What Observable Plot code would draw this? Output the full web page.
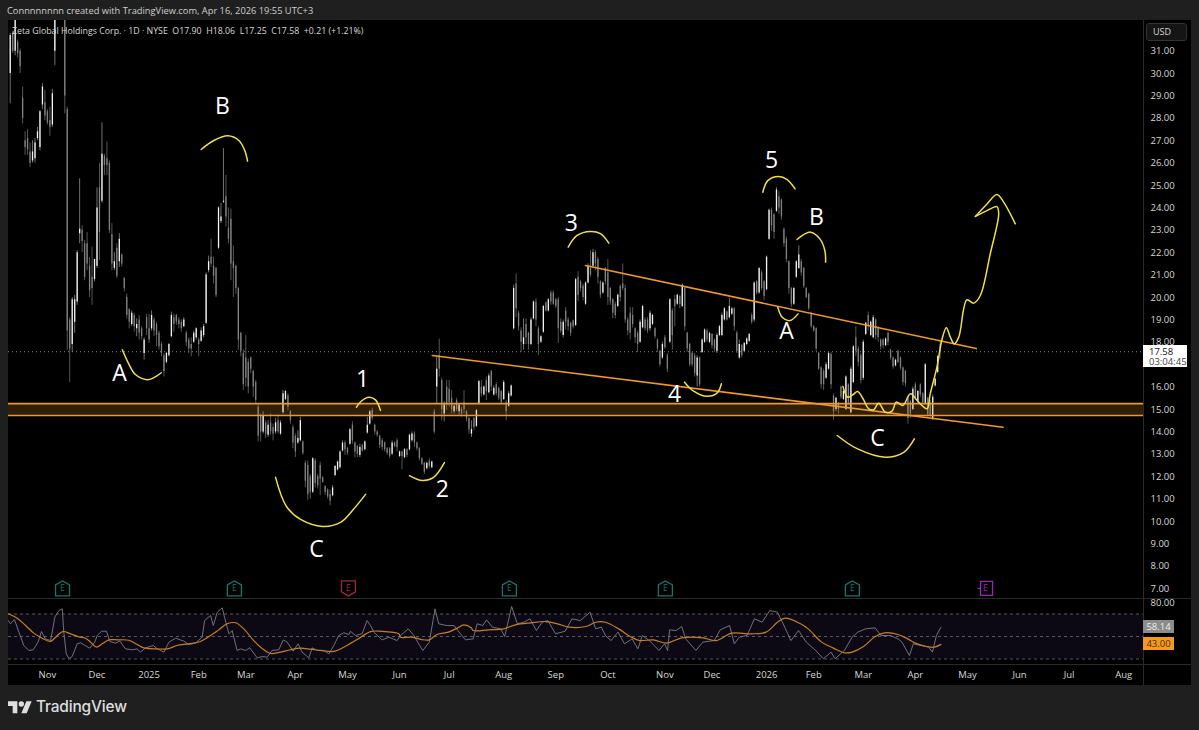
<!DOCTYPE html>
<html><head><meta charset="utf-8">
<script src="https://cdn.jsdelivr.net/npm/d3@7"></script>
<script src="https://cdn.jsdelivr.net/npm/@observablehq/plot@0.6"></script>
<style>
html,body{margin:0;padding:0;background:#1f1f1f;}
#wrap{position:relative;width:1199px;height:730px;overflow:hidden;font-family:"Open Sans",sans-serif;background:#1f1f1f;}
.abs{position:absolute;white-space:pre;}
svg{overflow:visible;}
</style></head><body>
<div id="wrap">
<div class="abs" style="left:8px;top:20px;width:1183px;height:665px;background:#000;box-sizing:border-box;"></div>
<div class="abs" id="cap" style="left:7px;top:4px;font-size:9.3px;line-height:14px;color:#cfcfcf;">Connnnnnnn created with TradingView.com, Apr 16, 2026 19:55 UTC+3</div>
<div class="abs" id="main" style="left:0;top:20px;"></div>
<div class="abs" id="rsi" style="left:0;top:598px;"></div>
<div class="abs" style="left:8px;top:598px;width:1183px;height:1px;background:#2b2b2b;"></div>
<div class="abs" style="left:8px;top:664px;width:1183px;height:1px;background:#2b2b2b;"></div>
<div class="abs" style="left:1143px;top:20px;width:1px;height:665px;background:#2b2b2b;"></div>
<div class="abs" id="legend" style="left:12px;top:24px;font-size:8.8px;line-height:14px;color:#d8d8d8;">Zeta Global Holdings Corp. · 1D · NYSE  O17.90  H18.06  L17.25  C17.58  +0.21 (+1.21%)</div>
<div class="abs" style="left:1146px;top:23px;width:41px;height:18px;box-sizing:border-box;border:1px solid #333;border-radius:3px;background:#151515;color:#d8d8d8;font-size:9px;line-height:16px;padding-left:6px;">USD</div>
<div class="abs" style="left:1143px;top:345px;width:44px;height:22px;background:#fff;color:#111;font-size:9.5px;line-height:10px;padding:1.5px 0 0 6px;box-sizing:border-box;">17.58<br><span style="color:#444">03:04:45</span></div>
<div class="abs" style="left:1143px;top:620px;width:31px;height:13px;background:#8c8c8c;color:#eee;font-size:9.5px;line-height:13px;text-align:center;">58.14</div>
<div class="abs" style="left:1143px;top:637px;width:31px;height:13px;background:#f7991c;color:#4a2a00;font-size:9.5px;line-height:13px;text-align:center;">43.00</div>
<svg class="abs" style="left:8px;top:700px" width="24" height="14" viewBox="0 2 36 21"><path fill="#dedede" d="M14 22H7V11H0V4h14v18zM28 22h-8l7.5-18h8L28 22z"/><circle fill="#dedede" cx="20" cy="8" r="4"/></svg>
<div class="abs" style="left:36px;top:696px;font-family:Inter,sans-serif;font-size:15.5px;font-weight:500;line-height:22px;color:#dedede;letter-spacing:-.2px;">TradingView</div>
</div>
<script>
// ---- candles, one entry per trading day (left to right) ----
const highs = [
31.8,31.9,33,31.5,31.1,29.4,27.4,27.5,26.9,27,
27.1,27.6,28.35,29.55,29.25,28.4,28.5,29.3,34,35.5,
35.5,35,33,28.5,19.1,20,20.1,22.1,25.3,23.2,
22.55,22.9,21.8,22.25,21.7,24.9,26,27.8,26.4,26.95,
26.1,23.3,22,22.4,22.85,21.95,20.9,20.15,19.5,19.4,
19.3,19.05,19.2,18.7,18.2,19.25,19.25,19.4,19.1,18.9,
18.5,18,17.5,17.55,17.95,19.35,19.25,19.25,19.1,19,
19.1,18.5,18.2,18.2,18.5,18.65,18.2,18.65,18.8,21.1,
21.85,22.6,21.8,21.35,24.05,24.2,26.65,25.45,24,23.95,
22.3,21.45,20.45,18.45,17.65,18.3,17.25,17.35,16.75,16.3,
15.2,14.8,14.9,14.5,14.5,14.8,14.35,14.6,14.75,14.5,
15.85,15.85,15.7,14.95,14.3,13.9,14.05,14.65,13.6,12.7,
12.7,12.1,12.85,12.8,12.1,12.65,12,11.6,11.45,11.4,
11.6,12.5,12.7,13.15,13.6,13.6,13.3,14.15,14.45,13.55,
13.4,13.45,13.45,13.6,14.65,14.95,15.05,14.35,14.05,13.85,
13.7,13.55,13.3,13.3,13.6,13.55,13.7,13.15,13.15,13.25,
13.25,13.9,14,14,13.55,13.3,12.85,12.65,12.65,12.8,
12.7,15,17.4,18.15,16.4,15.35,16.3,16.3,15.85,15.2,
15.5,15.25,15.1,15.85,14.95,14.65,14.5,14.65,15,16.3,
16.3,16.05,16.45,16.6,16.75,16.05,16.2,16,15.85,16.3,
15.4,15.8,16.1,20.55,21.05,19.4,18.65,19.05,19.05,18.45,
19.1,19.85,19.95,18.7,18.3,19.65,19.8,19.95,20.3,20.3,
19.95,20,19.05,19,19.55,19.1,18.9,19,20.85,21.15,
20.75,20.6,20.7,21.5,22.1,22.15,22.1,21.8,20.75,20.7,
21.35,21.7,20.45,19.95,19.8,20.15,20.55,21.5,20.55,19.1,
19.55,19.55,18.65,18.5,19,19.65,19.1,19.1,19.4,19.25,
18.65,18.15,17.65,18,18.3,17.5,19.95,19.5,20.1,20.15,
20.1,20.6,20.45,18.45,17.95,17.55,17.5,17.4,17.35,18.15,
18.6,18.6,18.45,18.4,18.15,18.4,18.75,19.3,19.55,19.4,
19.95,19.55,19.55,18.5,18.1,17.9,18,18.2,18.4,19.3,
20.7,20.75,21.35,21.2,20.75,21.85,23.95,24,23.75,24.9,
24.75,24.4,23.1,22.7,21.65,20.45,20.45,21.65,22.3,21.7,
21.35,20.45,20.2,19.35,18.75,18.65,17.55,16.9,16.8,17.1,
17.55,17.55,15.7,15.55,15.3,16.05,15.85,16.5,16.15,16.9,
17.85,18.7,17.8,17.5,18.1,18.9,19.35,18.95,19.2,19.05,
18.7,18.15,18.15,18.2,18.45,17.7,17.35,17.25,17.65,17.35,
16.9,16.75,15.55,15.4,16,16.2,15.85,16.15,15.75,17.05,
15.55,15.4,15.65,16.4,17.4,18.06];
const lows = [
28.65,30.9,30.8,30.7,30,27.75,26.35,26.35,25.8,26,
26,27,26.55,28.4,27.9,27.7,27.2,27.6,30.35,33,
33,33,28.2,17.65,16.2,17.55,18.4,19.65,22.4,22,
20.75,21.2,20,19.65,20.7,21.3,21.65,24.2,25.45,25.45,
22.85,21.2,21.2,20.85,21.35,21.35,20.25,19.05,18.6,18.7,
18.45,18.25,18.1,18.1,17.2,18.3,17.95,18.5,18.25,17.8,
17.65,17.35,16.45,17.05,17.35,18.2,18.45,18.75,18.6,18.45,
18.65,17.8,17.5,17.35,17.95,18.1,17.35,18,18.2,18.8,
21.1,21.35,20.6,20,22.15,23.3,24.2,23.15,22.4,20.75,
20,20.15,17.65,17.35,15.85,16,15.7,16.6,15.55,15.25,
13.55,13.55,13.9,13.7,13.75,13.85,13.6,13.9,13.9,13.85,
14.8,15.4,14.95,14.35,13.25,12.85,13.45,13.55,12.95,11.5,
10.95,11,11.25,11.5,11.45,11.15,11.7,11.15,11,10.7,
11.1,12,12.25,12.35,13.1,12.95,12.95,13.4,13.45,12.85,
12.85,12.85,13.1,13.15,13.9,14.3,14.5,13.85,13.75,13.25,
13.15,13.1,12.95,12.8,12.95,13.3,13.1,12.85,12.3,12.8,
12.85,13.15,13.55,13.3,13.15,12.7,12.5,12.1,12.3,12.35,
12.35,13.9,15.25,16.45,14.5,14.45,14.95,15.1,14.8,14.8,
14.9,14.75,14.65,14.8,14.45,13.9,13.75,14.05,14.2,15.2,
15.55,15.6,15.4,15.7,15.8,15.6,15.6,15.4,15.25,15.4,
14.5,15.1,15.55,18.55,19.1,18.5,17.55,17.65,17.9,17.65,
17.85,19,18.7,17.4,17.95,18.4,19.35,19.35,19.65,19.65,
19.5,17.95,18.4,18.2,18.55,18.5,18.25,18.6,18.7,19.8,
20.25,19.85,19.65,20.6,20.9,21.3,21.2,20.6,19.95,20.15,
20.55,19.65,19.65,19.05,19.05,19.55,19.8,20.3,18.85,18.3,
18.1,18.65,17.95,17.55,17.95,18.6,18.5,18.4,18.5,18.75,
18.15,17.55,16.9,17.25,17.7,16.65,17.95,17.65,18.7,19.65,
19.5,19.55,18.5,17.55,16.9,16.9,16.45,16,16,17.5,
17.95,18,17.95,17.7,17.55,17.5,18.25,18.25,18.95,18.95,
19.05,19.2,18.5,17.5,17.25,17.3,17.55,17.85,18,18.8,
18.9,20.1,20.15,20.3,19.85,20.3,22.55,22.95,22.6,23.8,
23.7,23.45,22.25,21.55,20.15,19.55,19.65,20.85,21.25,20.95,
20.4,19.95,19.4,18.6,18.45,17.6,16.75,15.9,15.85,16.35,
16.75,15.9,14.5,14.9,14.8,15.45,15.4,14.95,15.2,14.8,
16.15,17.35,16.9,16.15,16.3,18.3,18.5,18.25,18.15,18.1,
18,17.65,17.7,17.8,17.85,17.2,16.8,16.9,17.05,16.75,
16.05,16,14.35,14.6,14.95,15.4,15.3,15.55,15.25,15.2,
14.65,14.6,14.5,16,16.6,17.25];
const opens = [
30,31.8,31,31.4,31,28.9,27,27.1,26.5,26.1,
26.2,27.1,26.7,28.6,28.7,28.3,27.9,27.7,31,34,
34.5,34,33,28.4,19,17.9,18.9,19.8,22.85,23,
22.4,22.4,21.4,20.9,20.8,21.4,24.9,24.3,26.3,26.2,
26,22.8,21.3,22.2,21.6,21.9,20.85,20,19.45,18.8,
19.2,18.6,19,18.6,17.5,19.1,18.6,18.6,19,18.8,
18.4,17.9,17.4,17.1,17.4,18.25,19.1,19.2,19,18.9,
18.7,18.4,18.1,17.9,18,18.2,18.1,18.05,18.3,18.85,
21.2,21.8,21.4,21.3,22.2,23.4,24.25,24.5,23.1,23.5,
21.6,21.4,20.4,18.4,17.5,17.3,17.1,17.3,16.7,16.2,
15.1,14.7,14,14.4,13.85,14.4,14.2,14,14.5,13.9,
14.85,15.45,15.6,14.9,14.2,13.8,13.5,13.6,13.55,12.6,
12.5,12,11.3,12.7,12,12.5,11.95,11.55,11.4,11.2,
11.15,12.05,12.3,12.4,13.15,13.5,13.25,13.45,14.3,13.5,
13.35,12.95,13.4,13.2,13.95,14.35,14.95,14.3,14,13.8,
13.6,13.5,13.25,13.25,13,13.5,13.6,12.9,13.1,12.85,
13.2,13.2,13.6,13.9,13.5,13.25,12.8,12.6,12.35,12.7,
12.4,14.9,16,17.4,16.3,14.8,16,15.9,15.5,14.9,
15.4,14.9,15,15.3,14.9,14.6,13.9,14.6,14.25,15.25,
16,15.65,16.3,15.75,16.7,15.65,16.1,15.95,15.8,15.45,
15.3,15.15,15.6,18.6,20.6,19.3,18.5,17.9,18.8,18.4,
17.9,19.05,19.8,18.6,18,18.45,19.75,19.4,20.2,20.2,
19.9,19.9,18.9,18.3,19.4,19,18.85,18.95,18.75,20.9,
20.7,20.5,19.7,20.65,21.3,21.4,22,21.7,20.7,20.2,
21.3,21.1,20.4,19.9,19.7,19.6,20.5,20.6,20.4,19,
19.3,19.2,18.6,18.4,18,18.65,19,19,18.6,18.8,
18.6,18.1,17.6,17.3,18.2,17.4,18,19.4,19.9,19.7,
20.05,19.6,20.4,18.4,17.9,17.5,17.4,16.5,17.3,17.55,
18,18.5,18,18.35,18.1,17.6,18.3,18.3,19,19.35,
19.1,19.25,19.5,18.4,17.3,17.85,17.6,17.9,18.05,19.2,
19,20.7,20.2,21.1,20.7,20.35,22.6,23.9,23.7,23.85,
24.5,24.35,23.05,22.6,21.6,20.4,19.7,20.9,21.3,21.6,
21.3,20.4,20.15,19.3,18.7,18.6,17.5,16.85,16.7,16.4,
16.8,17.45,15.6,15,15.25,16,15.45,15,16.1,14.85,
16.2,18.2,17.7,17.4,16.4,18.35,19.2,18.3,18.2,19,
18.6,18.1,18.1,17.85,18.4,17.65,17.3,16.95,17.6,17.3,
16.85,16.7,15.5,15.35,15,16.1,15.35,16.1,15.7,15.25,
15.5,15.3,14.6,16.05,16.65,17.9];
const closes = [
31.7,31,33,30.9,30.3,28,26.7,26.6,26,26.5,
26.9,27.4,28.3,29.4,28.1,27.8,27.6,29.1,33,34.5,
34,33.5,29,18.5,17.7,19.9,19.9,22,23.05,22.5,
20.9,21.5,20.3,20.4,21.7,24,22.9,26.4,25.9,25.9,
23,21.5,21.6,20.95,22.6,21.5,20.4,19.2,18.9,19.3,
18.7,18.8,18.4,18.25,18.1,18.6,18.1,19.2,18.5,18.3,
17.8,17.5,16.7,17.5,17.9,19.2,18.8,18.9,18.8,18.6,
19,18,17.7,17.7,18.4,18.6,17.9,18.5,18.7,21,
21.6,21.5,20.95,20.1,24,23.6,24.3,23.6,22.6,21.5,
21.3,20.4,18.1,17.6,16.1,16.4,16,16.8,16,15.4,
13.8,14,14.7,13.9,14.3,14,13.9,14.4,14,14.4,
15.7,15.8,15.1,14.5,13.5,13.1,13.7,14.5,13.05,11.8,
11.2,11.3,12.8,11.7,11.6,11.9,11.75,11.3,11.1,10.9,
11.5,12.45,12.65,13.1,13.5,13.2,13.05,14.1,13.6,13.1,
13,13.3,13.15,13.55,14.3,14.9,14.6,14,13.85,13.4,
13.3,13.2,13.05,12.9,13.5,13.35,13.3,13.1,12.9,13.2,
12.95,13.85,13.9,13.5,13.25,12.8,12.55,12.2,12.6,12.45,
12.65,14,16.8,16.8,15,15.2,15.2,15.3,15,15.15,
15,15.2,14.8,15,14.6,14.1,14.1,14.2,14.95,16.25,
15.7,16,15.8,16.5,16,15.95,15.7,15.5,15.3,16.2,
14.9,15.7,16.05,20.4,19.5,18.7,18,18.2,18.2,17.9,
19,19.8,19,17.9,18.25,19.6,19.4,19.9,19.8,19.7,
19.6,18.6,18.5,18.9,18.9,18.7,18.4,18.7,20.8,20.1,
20.4,20,20.65,21.4,21,22,21.5,20.9,20.1,20.65,
20.7,20,19.8,19.3,19.2,20.1,20,20.4,19,18.5,
18.4,18.8,18.2,17.9,18.9,19.6,18.6,18.5,19.3,19.2,
18.25,17.7,17,17.9,17.75,16.8,19.9,18.3,19.6,20.1,
19.7,20.55,18.7,17.7,17,17,16.6,17.3,16.1,18.1,
18.55,18.1,18.4,17.85,17.7,18.3,18.7,19.2,19.5,19,
19.6,19.5,18.7,17.6,17.9,17.4,17.95,18.15,18.35,18.9,
20.65,20.2,21.3,20.4,20.05,21.8,23.9,23.2,22.9,24.8,
24,23.6,22.4,21.7,20.4,19.7,20.4,21.6,21.9,21.1,
20.5,20,19.5,18.7,18.5,17.7,16.8,16.1,16.1,17,
17.5,16.1,14.9,15.5,15,15.55,15.8,16.45,15.3,16.8,
17.8,17.6,17.1,16.3,18,18.85,18.7,18.9,19.1,18.3,
18.2,17.8,17.85,18.15,18,17.3,16.9,17.2,17.1,16.85,
16.2,16.15,14.6,14.8,15.9,15.5,15.8,15.65,15.3,17,
14.75,14.7,15.55,16.35,17.37,17.58];

// ---- scale extents (bar number and price at the pane edges) ----
const barExtent = [-0.69, 457];
const priceExtent = [6.56, 32.37];
const rsiExtent = [25.1, 83.8];

// ---- axes (the 17.00 tick sits under the last-price tag in the reference) ----
const priceTicks = [7,8,9,10,11,12,13,14,15,16,18,19,20,21,22,23,24,25,26,27,28,29,30,31];
const monthBars = [15,35,56,76,95,115,136,157,177,199,220,241,264,283,305,324,344,365,386,407,427,449];
const monthNames = ["Nov","Dec","2025","Feb","Mar","Apr","May","Jun","Jul","Aug","Sep","Oct","Nov","Dec","2026","Feb","Mar","Apr","May","Jun","Jul","Aug"];

// ---- price levels ----
const zoneLow = 14.73, zoneHigh = 15.26, lastClose = 17.58;
const upperTrend = {bars:[232,389.6], prices:[21.43,17.72]};
const lowerTrend = {bars:[170.2,400.4], prices:[17.41,14.21]};

// ---- hand-drawn yellow curves: bar number / price ----
const curves = [
 {bars:[45.2,47.8,50.5,55.2,57.9,60.9], prices:[17.67,17.04,16.56,16.33,16.42,16.64]},
 {bars:[77,82.1,87.7,92.2,94.6,95.7], prices:[26.61,27.01,27.22,27.01,26.56,26.09]},
 {bars:[139.6,141.9,144.6,147.3,149.3], prices:[15.1,15.4,15.55,15.43,14.96]},
 {bars:[107,111.4,117.1,126,133.2,138,143.3], prices:[11.97,10.67,10.09,9.78,9.96,10.49,11.21]},
 {bars:[161,166.2,170.7,175.1], prices:[12.05,11.83,11.97,12.63]},
 {bars:[225,228.6,234,238,241.4], prices:[22.25,22.77,22.95,22.85,22.43]},
 {bars:[271.9,275.6,281,285.1,286.8], prices:[16.22,15.82,15.59,15.74,16.15]},
 {bars:[303.5,305.5,309.9,313.3,316.5], prices:[24.7,25.22,25.4,25.26,24.85]},
 {bars:[317.3,322.7,326.5,328.5,328.8], prices:[22.59,22.92,22.62,22.1,21.58]},
 {bars:[309.5,311.3,314.4,317.7], prices:[19.57,19.12,18.97,19.27]},
 {bars:[333.5,341.5,352.9,360.3,364.6], prices:[13.84,13.25,12.87,13.09,13.69]},
 {bars:[335.8,337.7,339.9,341.7,343.9,346.2,348.2,350.2,352.9,355.6,357.3,360,363,366.3,369.7,371,373.7,375.8,377.5,379.1,380.7,382.5,385.8,388.5,391.2,395.2,398.6,397.9,393.9,389.2],
  prices:[16.03,15.55,15.67,15.8,15.48,15.03,14.99,15.28,14.88,14.93,15.33,15.18,15.7,15.33,15.03,15.7,16.89,18.16,18.65,18.23,17.93,18.23,19.9,19.75,20.09,21.95,23.74,24.06,23.88,23.62]},
 {bars:[389.2,393.9,397.9,400.6,405.3], prices:[23.62,24.18,24.6,24.26,23.29]}
];

// ---- wave labels ----
const labelText = ["A","B","C","1","2","3","4","5","B","A","C"];
const labelBars = [44.1,85.6,123.5,142.1,174.3,226.3,267.9,307,325.1,313,349.7];
const labelPrices = [16.61,28.53,8.75,16.34,11.43,23.3,15.67,26.12,23.57,18.48,13.71];

// ---- earnings flags ----
const earningsPast = [21.1,90.4,201.3,264.2,339.6];
const earningsMiss = [136.4];
const earningsNext = [393.3];
const earningsPrice = 7.01;

// ---- RSI line ----
const rsiBars = [-0.8,0.1,1.7,3.5,5.5,7.5,9.3,11.2,12.6,14.2,16.3,18,19.6,21,21.6,22.6,23.7,25,27,28.4,30.4,32.1,34.1,35.1,36.8,38.8,40.2,42.5,44.2,46.5,49.2,51.2,52.5,54.6,57.7,59.3,62,64,66.7,70,72,74.7,77.4,78.4,80.8,81.9,83.5,85.5,86.4,88.2,89.5,91.5,92.9,94.9,96.6,99.6,101.6,103.6,105.6,108.3,110.1,111.7,114.1,116.1,117.7,120.4,121.8,123.8,126.5,128.5,130.5,132.5,134.5,136.6,137.2,139.2,141.9,143.9,145.3,146.6,150,152.7,156,
157.4,160.5,162.8,165.1,166.4,169,170.5,171.3,172.8,175.9,179,180.5,183.6,186.7,188.3,190.6,192.1,194.4,197.8,199.4,202.2,204.5,207.1,209.6,212.2,214.5,216.8,219.9,223.8,226.5,229.9,233.8,236.1,238.4,240,242.3,245.1,247.7,250.8,253.1,254.9,257.7,261.6,263.9,265.1,265.9,268.5,270.8,272.4,276.5,279.3,283.9,286.3,290.1,292,294,297.1,300.1,303.2,306.3,309.4,311.7,314.8,317.9,321,324.8,327.9,331,332.6,336.4,339.5,341.8,344.9,348.8,351.1,354.9,358,359.6,362.6,364.2,370.4,371.9,373.5,375.3];
const rsiValues = [64.2,61.3,65.1,53.9,42,37.6,38.2,45,54.4,47.9,46.4,67.2,73.1,74.6,53.9,34.6,30.4,32.2,43.5,44.4,41.7,39.6,45,50.9,54.7,54.7,45.6,44.1,45.9,39,38.2,39,36.1,39.9,42,39,36.1,45,48.5,45.9,42.9,44.1,49.4,64.2,68.7,59.8,71.6,75.5,67.2,52.4,55.3,37.6,39,37.6,39.9,31,32.2,31.6,37.6,38.2,47,45,37,43.5,36.1,31,39.9,37.6,37.6,34.6,42,50.9,53.3,51.8,54.7,50.9,52.4,64.2,59.8,53.9,47,49.4,46.4,
50.9,56.8,50.9,42,37.6,45,64.2,74.6,61.3,59.8,59.8,55.3,47,47.9,61.3,59.8,64.8,58.3,56.8,50,76.7,61.3,62.7,65.7,55.3,62.7,64.2,52.4,54.7,65.7,64.2,71.6,56.8,58.3,50.9,46.4,53.9,43.5,47.9,39,50.9,46.4,37.6,43.5,37.6,55.9,55.3,58.9,47.9,37.6,45,46.4,55.9,59.8,43.5,49.4,50.9,65.7,62.7,73.1,71.6,61.3,46.4,55.3,45,37.6,30.2,36.1,30.2,37.6,49.4,53.9,56.8,57.7,50.9,50.9,47.9,45,33.1,43.5,40.5,36.1,50.9,58.14];
const maBars = [-0.8,2.8,6.2,9.5,12.9,16.3,18.3,21.2,24.3,27.7,30.4,32.4,34.8,37.1,39.8,43.1,47.8,51.2,53.9,59.3,63.3,67.3,72,76.7,80.8,84.1,87.5,90.9,94.2,98.2,102.3,105,109,113,117,121.1,125.1,130.5,134.5,139.9,145.3,149.3,156.7,
157.4,162,165.9,169,172.1,176.7,180.5,182.9,185.9,186.7,192.9,199,203.7,209.9,216,220.7,225.3,232.2,236.1,240,245.4,250,253.8,259.3,264.7,270.8,279.3,284.7,290.9,298.6,304.8,309.4,312.5,318.7,321.8,327.2,331.8,336.4,339.5,344.1,348.8,352.6,358,361.9,365,369.6,372.7,375.3];
const maValues = [70.2,66.3,59.8,53,48.5,45.6,49.4,54.4,52.4,49.7,48.5,45,40.5,43.5,47,47,46.7,42.9,39.9,39,39,42,43.5,45.6,50.9,55.9,61.3,62.2,56.8,46.4,38.2,34.9,36.1,38.2,39.6,38.7,37.6,36.7,40.5,47.3,54.4,54.7,52.4,
49.4,49.4,47.3,47,51.8,53.9,57.7,60.4,57.7,55.3,55.9,56.8,60.4,62.2,63.3,61.3,58.3,58.9,62.7,62.7,56.8,50,46.4,47,44.1,48.8,48.8,46.4,53,52.4,53.9,62.7,66.3,61.3,56.8,45,39.9,35.5,36.1,41.1,50,53.3,51.8,47.9,44.1,41.1,40.5,43];

// ---- colours ----
const upColor="#f4f4f4", downColor="#828282", upWick="#8e8e8e", downWick="#6c6c6c";
const orange="#f0992a", yellow="#f3df45";
const fontStack='"Open Sans",sans-serif';

// ---- build rows for the marks ----
const bars = closes.map((c,i)=>({i,o:opens[i],h:highs[i],l:lows[i],c,up:c>=opens[i]}));
const curveRows = curves.flatMap((k,id)=>k.bars.map((b,j)=>({id,b,p:k.prices[j]})));
const trendRows = [upperTrend,lowerTrend].flatMap((k,id)=>k.bars.map((b,j)=>({id,b,p:k.prices[j]})));
const labelRows = labelText.map((t,i)=>({t,b:labelBars[i],p:labelPrices[i]}));
const rsiRows = rsiBars.map((b,i)=>({b,v:rsiValues[i]}));
const maRows = maBars.map((b,i)=>({b,v:maValues[i]}));

// ---- earnings flag glyphs ----
const houseUp={draw(c){c.moveTo(-7,-3.5);c.lineTo(0,-7.5);c.lineTo(7,-3.5);c.lineTo(7,7.5);c.lineTo(-7,7.5);c.closePath();}};
const houseDown={draw(c){c.moveTo(-7,-7.5);c.lineTo(7,-7.5);c.lineTo(7,3.5);c.lineTo(0,7.5);c.lineTo(-7,3.5);c.closePath();}};
const boxFlag={draw(c){c.moveTo(-5,-7);c.lineTo(7,-7);c.lineTo(7,7);c.lineTo(-5,7);c.closePath();c.moveTo(-8,0);c.lineTo(-5,0);}};
function flagMarks(list,symbol,color){
  return [
    Plot.dot(list,{x:d=>d,y:()=>earningsPrice,symbol,r:5,stroke:color,strokeWidth:1.3,fill:"#000"}),
    Plot.text(list,{x:d=>d,y:()=>earningsPrice,text:()=>"E",fill:color,fontSize:8.5,fontFamily:fontStack})
  ];
}

const mainChart = Plot.plot({
  width:1199,height:578,marginTop:0,marginBottom:0,marginLeft:8,marginRight:56,
  style:{background:"transparent",overflow:"visible"},
  x:{type:"linear",domain:barExtent,axis:null},
  y:{type:"linear",domain:priceExtent},
  marks:[
    Plot.axisY(priceTicks,{anchor:"right",tickSize:0,tickPadding:7,label:null,tickFormat:d=>d.toFixed(2),fill:"#d8d8d8",fontSize:9.5,fontFamily:fontStack}),
    Plot.ruleY([lastClose],{stroke:"#bdbdbd",strokeWidth:.7,strokeDasharray:"1 3"}),
    Plot.ruleX(bars,{x:"i",y1:"l",y2:"h",stroke:d=>d.up?upWick:downWick,strokeWidth:.8,clip:true}),
    Plot.ruleX(bars,{x:"i",y1:"o",y2:"c",stroke:d=>d.up?upColor:downColor,strokeWidth:1.3,clip:true}),
    Plot.rect([zoneLow],{x1:()=>barExtent[0],x2:()=>barExtent[1],y1:()=>zoneLow,y2:()=>zoneHigh,fill:orange,fillOpacity:.2}),
    Plot.ruleY([zoneLow,zoneHigh],{stroke:orange,strokeWidth:1.6}),
    Plot.line(trendRows,{x:"b",y:"p",z:"id",stroke:orange,strokeWidth:1.6}),
    Plot.line(curveRows,{x:"b",y:"p",z:"id",stroke:yellow,strokeWidth:1.5,curve:"catmull-rom"}),
    Plot.text(labelRows,{x:"b",y:"p",text:"t",fill:"#fff",fontSize:23,fontFamily:fontStack}),
    ...flagMarks(earningsPast,houseUp,"#17756a"),
    ...flagMarks(earningsMiss,houseDown,"#9c2c3c"),
    ...flagMarks(earningsNext,boxFlag,"#9c27b0")
  ]
});
document.getElementById("main").append(mainChart);

const rsiChart = Plot.plot({
  width:1199,height:87,marginTop:0,marginBottom:21,marginLeft:8,marginRight:56,
  style:{background:"transparent",overflow:"visible"},
  x:{type:"linear",domain:barExtent},
  y:{type:"linear",domain:rsiExtent},
  marks:[
    Plot.rect([30],{x1:()=>barExtent[0],x2:()=>barExtent[1],y1:()=>30,y2:()=>70,fill:"#7e57c2",fillOpacity:.1}),
    Plot.ruleY([30,50,70],{stroke:"#5a5a5a",strokeWidth:1,strokeDasharray:"3 3"}),
    Plot.axisX(monthBars,{anchor:"bottom",tickSize:0,tickPadding:7,label:null,tickFormat:(d,i)=>monthNames[i],fill:"#d8d8d8",fontSize:9.5,fontFamily:fontStack}),
    Plot.axisY([80],{anchor:"right",tickSize:0,tickPadding:7,label:null,tickFormat:d=>d.toFixed(2),fill:"#d8d8d8",fontSize:9.5,fontFamily:fontStack}),
    Plot.line(rsiRows,{x:"b",y:"v",stroke:"#7c7c88",strokeWidth:.9,clip:true}),
    Plot.line(maRows,{x:"b",y:"v",stroke:"#c47f26",strokeWidth:1.2,curve:"catmull-rom",clip:true})
  ]
});
document.getElementById("rsi").append(rsiChart);
</script>
</body></html>
